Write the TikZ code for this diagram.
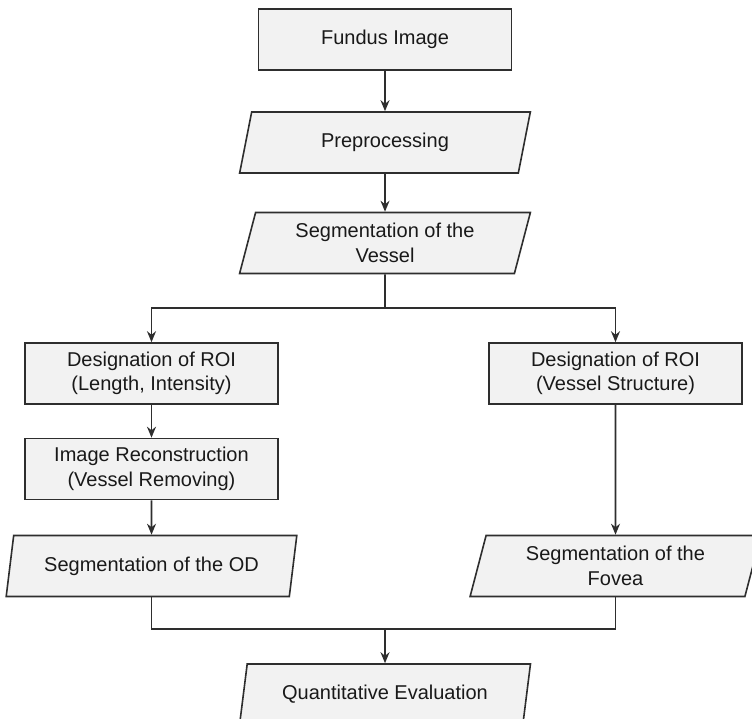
\documentclass[tikz,border=0pt]{standalone}
\usepackage{fontspec}
\setmainfont{Liberation Sans}
\usetikzlibrary{shapes.geometric,arrows.meta}
\definecolor{boxfill}{HTML}{F2F2F2}
\definecolor{boxline}{HTML}{2E2E2E}
\begin{document}
\begin{tikzpicture}[
    x=0.5pt, y=-0.5pt,
    line join=miter, >={Stealth[length=5.5pt,width=4.5pt]},
    every node/.style={font=\fontsize{10}{12.2}\selectfont, align=center,
        text=black!90},
    procbox/.style={draw=boxline, fill=boxfill, line width=0.8pt,
        minimum width=126.5pt, minimum height=30.5pt, inner sep=1pt},
    iobox/.style={trapezium, trapezium left angle=75.3,
        trapezium right angle=104.7, trapezium stretches=true,
        draw=boxline, fill=boxfill, line width=0.8pt,
        minimum width=145.5pt, minimum height=30.5pt, inner sep=1pt},
    link/.style={draw=boxline, line width=0.8pt}
]
    % Page frame in pixels of the source figure (752 x 719).
    \useasboundingbox (0,0) rectangle (752,719);
    \clip (0,0) rectangle (752,719);

    % Main column.
    \node[procbox] (fundus) at (385,39.5) {Fundus Image};
    \node[iobox] (prep) at (385,142.5) {Preprocessing};
    \node[iobox] (segV) at (385,243) {Segmentation of the\\Vessel};

    % Left branch: optic disc.
    \node[procbox] (roiL) at (151.5,373.5) {Designation of ROI\\(Length, Intensity)};
    \node[procbox] (recon) at (151.5,469) {Image Reconstruction\\(Vessel Removing)};
    \node[iobox] (segOD) at (151.5,566) {Segmentation of the OD};

    % Right branch: fovea.
    \node[procbox] (roiR) at (615.5,373.5) {Designation of ROI\\(Vessel Structure)};
    \node[iobox] (segF) at (615.5,566) {Segmentation of the\\Fovea};

    % Joined result.
    \node[iobox] (quant) at (385,694.5) {Quantitative Evaluation};

    \coordinate (split) at (385,308);
    \coordinate (merge) at (385,629);

    \draw[link,->] (fundus) -- (prep);
    \draw[link,->] (prep) -- (segV);
    \draw[link] (segV.south) -- (split);
    \draw[link,->] (split) -| (roiL.north);
    \draw[link,->] (split) -| (roiR.north);
    \draw[link,->] (roiL) -- (recon);
    \draw[link,->] (recon) -- (segOD);
    \draw[link,->] (roiR) -- (segF);
    \draw[link] (segOD.south) |- (merge) -| (segF.south);
    \draw[link,->] (merge) -- (quant.north);
\end{tikzpicture}
\end{document}
